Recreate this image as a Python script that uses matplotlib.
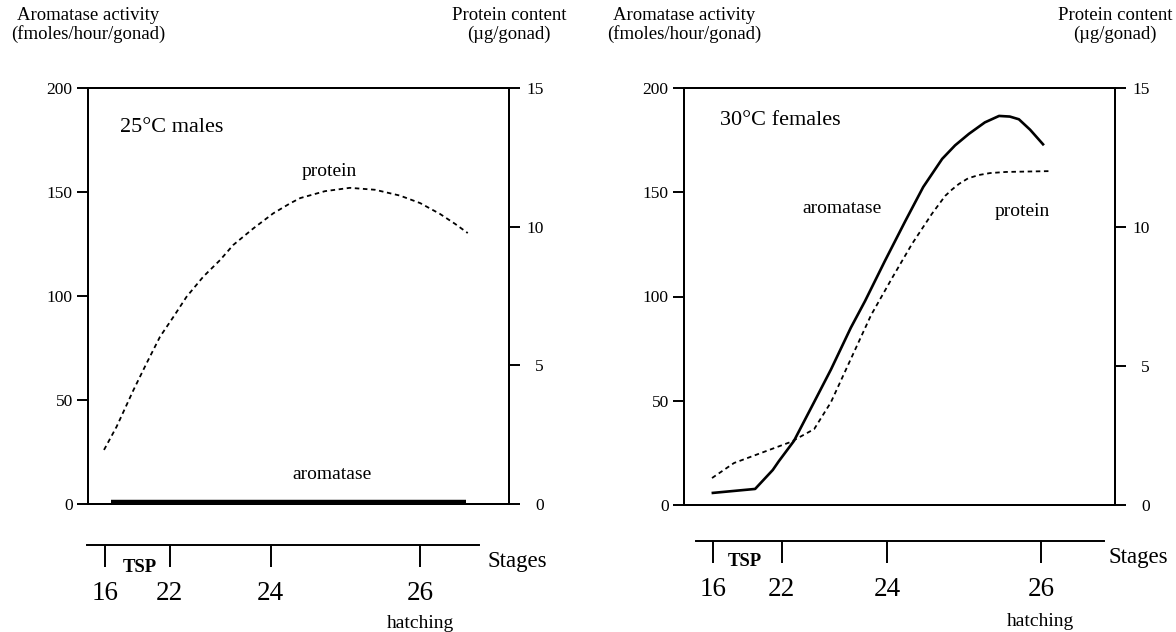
import matplotlib
matplotlib.use("Agg")
import matplotlib.pyplot as plt
import matplotlib.transforms as mtransforms

plt.rcParams['font.family'] = ['Liberation Serif', 'DejaVu Serif']

# x is position along the incubation axis (0-100 across each panel)
# 25C males
male_prot_x = [3.8, 6.8, 10.8, 13.9, 17.1, 20.3, 23.4, 27.4, 31.4, 34.5, 39.3,
               44.0, 48.0, 50.4, 56.3, 62.2, 68.2, 74.1, 78.9, 83.6, 87.2, 90.2]
male_prot = [1.95, 2.79, 4.11, 5.07, 6.03, 6.75, 7.47, 8.20, 8.80, 9.34, 9.94,
             10.48, 10.84, 11.03, 11.28, 11.40, 11.33, 11.12, 10.85, 10.46, 10.1, 9.77]
male_arom_x = [5.5, 89.8]
male_arom = [0.8, 0.8]
male_stage_pos = [4.0, 19.4, 43.4, 78.9]

# 30C females
fem_arom_x = [6.7, 16.5, 20.6, 22.0, 25.5, 30.2, 34.1, 38.7, 42.0, 46.6, 51.3,
              55.5, 59.9, 62.9, 66.1, 69.8, 73.1, 75.6, 77.7, 80.3, 83.3]
fem_arom = [5.8, 7.7, 16.8, 21, 30.7, 49.4, 65, 85, 97.8, 117, 136,
            152.5, 166, 172.5, 178, 183.5, 186.6, 186.3, 185, 180, 173]
fem_prot_x = [6.5, 11.6, 24.8, 30.2, 34.1, 38.7, 43.4, 48.3, 52.9, 57.5, 60.6,
              62.2, 63.8, 65.9, 68.4, 71.0, 74.7, 84.7]
fem_prot = [0.97, 1.51, 2.27, 2.73, 3.7, 5.25, 6.83, 8.17, 9.39, 10.47, 11.12,
            11.35, 11.55, 11.75, 11.87, 11.94, 11.98, 12.01]
fem_stage_pos = [6.7, 22.7, 47.1, 82.8]

stage_labels = ['16', '22', '24', '26']
arom_ticks = [0, 50, 100, 150, 200]
prot_ticks = [0, 5, 10, 15]

W, H = 1176, 632
fig = plt.figure(figsize=(W / 100, H / 100), dpi=100)
LW = 1.4


def panel(x0, x1, y_top, y_bot, y_stage):
    ax = fig.add_axes([x0 / W, 1 - y_bot / H, (x1 - x0) / W, (y_bot - y_top) / H])
    ax.set_xlim(0, 100)
    ax.set_ylim(0, 200)
    ax.set_xticks([])
    ax.set_yticks(arom_ticks)
    for s in ax.spines.values():
        s.set_linewidth(LW)
    ax.tick_params(axis='y', length=8, width=LW, pad=3, labelsize=12.5)
    ax2 = ax.twinx()
    ax2.set_ylim(0, 15)
    ax2.set_yticks(prot_ticks)
    ax2.tick_params(axis='y', length=8, width=LW, pad=17, labelsize=12.5)
    for lab in ax2.get_yticklabels():
        lab.set_horizontalalignment('right')
    for s in ax2.spines.values():
        s.set_linewidth(LW)

    ax_s = fig.add_axes([x0 / W, 1 - y_stage / H, (x1 - x0) / W, 0.0001])
    ax_s.set_xlim(0, 100)
    ax_s.patch.set_visible(False)
    for k in ['left', 'right', 'top']:
        ax_s.spines[k].set_visible(False)
    ax_s.spines['bottom'].set_linewidth(LW)
    ax_s.set_yticks([])
    tr = mtransforms.blended_transform_factory(ax_s.transData, fig.transFigure)

    fig.text(x0 / W, 1 - 15 / H, 'Aromatase activity', ha='center', va='center', fontsize=13.5)
    fig.text(x0 / W, 1 - 34 / H, '(fmoles/hour/gonad)', ha='center', va='center', fontsize=13.5)
    fig.text(x1 / W, 1 - 15 / H, 'Protein content', ha='center', va='center', fontsize=13.5)
    fig.text(x1 / W, 1 - 34 / H, '(\u00b5g/gonad)', ha='center', va='center', fontsize=13.5)
    return ax, ax2, ax_s, tr


# ---- left panel: 25C males
ax, ax2, ax_s, tr = panel(88, 509, 88, 504, 545)
ax.plot(male_arom_x, male_arom, color='black', lw=3.2, solid_capstyle='butt')
ax2.plot(male_prot_x, male_prot, color='black', lw=1.3, linestyle=(0, (2.5, 2)))
ax.text(7.6, 181, '25\u00b0C males', fontsize=16, va='center')
ax.text(57.3, 160, 'protein', fontsize=14, ha='center', va='center')
ax.text(58.0, 14, 'aromatase', fontsize=14, ha='center', va='center')
ax_s.spines['bottom'].set_bounds(-0.2, 92.9)
ax_s.set_xticks(male_stage_pos, stage_labels)
ax_s.tick_params(axis='x', length=16, width=LW, pad=10, labelsize=19.5)
ax_s.text(12.4, 1 - 567 / H, 'TSP', transform=tr, fontsize=13.5, fontweight='bold',
          ha='center', va='center')
ax_s.text(94.8, 1 - 561 / H, 'Stages', transform=tr, fontsize=16.5, ha='left', va='center')
ax_s.text(male_stage_pos[3], 1 - 624 / H, 'hatching', transform=tr, fontsize=14,
          ha='center', va='center')

# ---- right panel: 30C females
ax, ax2, ax_s, tr = panel(684, 1115, 88, 505, 541)
ax.plot(fem_arom_x, fem_arom, color='black', lw=1.9)
ax2.plot(fem_prot_x, fem_prot, color='black', lw=1.3, linestyle=(0, (2.5, 2)))
ax.text(8.4, 184.6, '30\u00b0C females', fontsize=16, va='center')
ax.text(36.7, 142, 'aromatase', fontsize=14, ha='center', va='center')
ax.text(78.4, 141, 'protein', fontsize=14, ha='center', va='center')
ax_s.spines['bottom'].set_bounds(2.8, 97.4)
ax_s.set_xticks(fem_stage_pos, stage_labels)
ax_s.tick_params(axis='x', length=16, width=LW, pad=10, labelsize=19.5)
ax_s.text(14.2, 1 - 562 / H, 'TSP', transform=tr, fontsize=13.5, fontweight='bold',
          ha='center', va='center')
ax_s.text(98.6, 1 - 557 / H, 'Stages', transform=tr, fontsize=16.5, ha='left', va='center')
ax_s.text(fem_stage_pos[3], 1 - 621 / H, 'hatching', transform=tr, fontsize=14,
          ha='center', va='center')

fig.savefig('out.png', dpi=100)
